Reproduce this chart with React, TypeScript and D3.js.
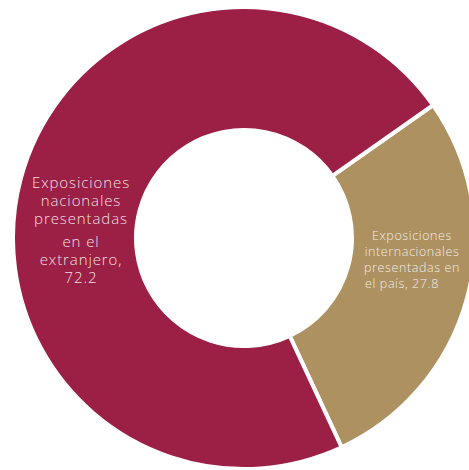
import React from "react";
import * as d3 from "d3";

const categories = ["Exposiciones internacionales presentadas en el país", "Exposiciones nacionales presentadas en el extranjero"];
const values = [27.8, 72.2];
const colors = ["#AD9161", "#9C1F45"];
const labelLines = [
  ["Exposiciones", "internacionales", "presentadas en", "el país, 27.8"],
  ["Exposiciones", "nacionales", "presentadas", "en el", "extranjero,", "72.2"],
];

const W = 469, H = 470;
const cx = 244, cy = 238, R = 231, r = 108;

export default function App() {
  const pie = d3.pie<number>().sort(null).startAngle((54.9 * Math.PI) / 180).endAngle((54.9 * Math.PI) / 180 + 2 * Math.PI);
  const arcs = pie(values);
  const arc = d3.arc<d3.PieArcDatum<number>>().innerRadius(r).outerRadius(R);
  const font = "'Open Sans', sans-serif";
  return (
    <svg width={W} height={H} style={{ position: "absolute", left: 0, top: 0 }}>
      <g transform={`translate(${cx},${cy})`}>
        {arcs.map((a, i) => (
          <path key={categories[i]} d={arc(a) || ""} fill={colors[i]} stroke="#fff" strokeWidth={4} />
        ))}
      </g>
      <g fontFamily={font} fontWeight={300} fill="#fff" fillOpacity={0.88} textAnchor="middle">
        {labelLines[0].map((t, i) => (
          <text key={i} x={i === 3 ? 402 : 412} y={[235, 251, 267.5, 283][i]} fontSize={12.5} letterSpacing={0.6} dominantBaseline="central">{t}</text>
        ))}
        {labelLines[1].map((t, i) => (
          <text key={i} x={81} y={[182, 200, 218, 241, 259, 277][i]} fontSize={15} letterSpacing={0.9} dominantBaseline="central">{t}</text>
        ))}
      </g>
    </svg>
  );
}
